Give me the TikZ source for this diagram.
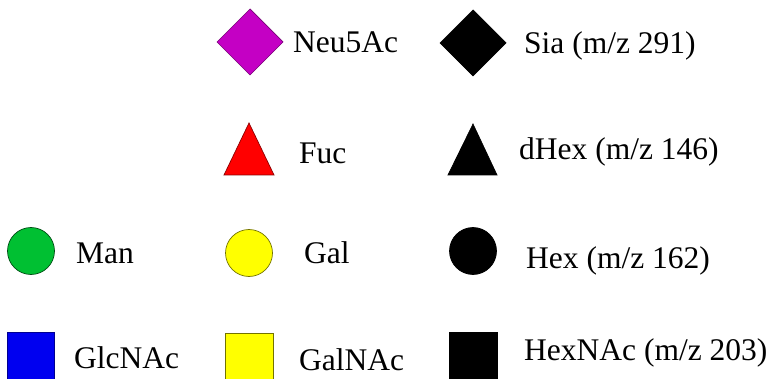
\documentclass[tikz,border=0pt]{standalone}
\usepackage{fontspec}
\setmainfont{Liberation Serif}
\definecolor{neu}{RGB}{196,0,196}
\definecolor{mangreen}{RGB}{0,192,50}
\definecolor{galyellow}{RGB}{255,255,0}
\definecolor{glcblue}{RGB}{0,0,240}
\definecolor{fucred}{RGB}{255,0,0}
\begin{document}
\begin{tikzpicture}[x=1pt,y=1pt,
  lbl/.style={anchor=base west,inner sep=0pt,font=\fontsize{31.5}{36}\selectfont},
  edge/.style={line width=0.7pt}]
\useasboundingbox (0,0) rectangle (771,378);
\clip (0,0) rectangle (771,378);
% row 1: diamonds (y_tikz = 378 - y_px)
\draw[edge,fill=neu,draw=neu!60!black] (217,336) -- (250,369) -- (283,336) -- (250,303) -- cycle;
\node[lbl] (neu) at (293,325) {Neu5Ac};
\draw[edge,fill=black,draw=black] (440,335) -- (473,368) -- (506,335) -- (473,302) -- cycle;
\node[lbl] (sia) at (524,324) {Sia (m/z 291)};
% row 2: triangles
\draw[edge,fill=fucred,draw=fucred!55!black] (224,203) -- (249,255) -- (274,203) -- cycle;
\node[lbl] (fuc) at (299,214) {Fuc};
\draw[edge,fill=black,draw=black] (448,203) -- (473,254) -- (497,203) -- cycle;
\node[lbl] (dhex) at (519,218) {dHex (m/z 146)};
% row 3: circles
\draw[edge,fill=mangreen,draw=mangreen!40!black] (31,127) circle (23.5);
\node[lbl] (man) at (76,115) {Man};
\draw[edge,fill=galyellow,draw=galyellow!45!black] (249,125) circle (23.5);
\node[lbl] (gal) at (304,115) {Gal};
\draw[edge,fill=black,draw=black] (473,127) circle (23.5);
\node[lbl] (hex) at (526,110) {Hex (m/z 162)};
% row 4: squares
\draw[edge,fill=glcblue,draw=glcblue!60!black] (7,46) rectangle (54,-1);
\node[lbl] (glc) at (74,10) {GlcNAc};
\draw[edge,fill=galyellow,draw=galyellow!45!black] (225,45) rectangle (273,-2);
\node[lbl] (galnac) at (299,8) {GalNAc};
\draw[edge,fill=black,draw=black] (449,46) rectangle (497,-1);
\node[lbl] (hexnac) at (524,18) {HexNAc (m/z 203)};
\end{tikzpicture}
\end{document}
